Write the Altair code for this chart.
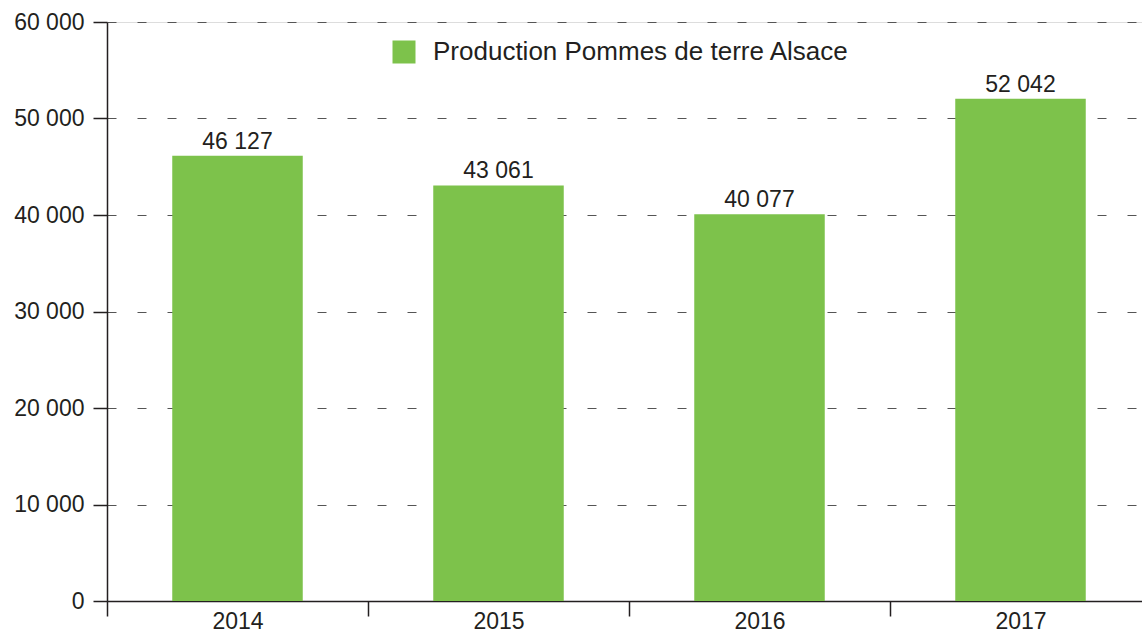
import altair as alt
import pandas as pd

years = ["2014", "2015", "2016", "2017"]
values = [46127, 43061, 40077, 52042]
series_name = "Production Pommes de terre Alsace"
y_ticks = [0, 10000, 20000, 30000, 40000, 50000, 60000]

df = pd.DataFrame({"year": years, "value": values, "series": [series_name] * len(years)})

FONT = "Liberation Sans"
TXT = "#231F20"
GREEN = "#7DC24B"

base = alt.Chart(df).encode(
    x=alt.X(
        "year:N",
        sort=years,
        scale=alt.Scale(paddingInner=0, paddingOuter=0, range=[0, 1044]),
        axis=alt.Axis(
            title=None,
            labelAngle=0,
            tickBand="extent",
            tickSize=15,
            labelPadding=-6,
            labelFontSize=23,
            labelFont=FONT,
            labelColor=TXT,
            domainColor=TXT,
            tickColor=TXT,
            domainWidth=1.5,
            tickWidth=1.5,
            grid=False,
        ),
    ),
    y=alt.Y(
        "value:Q",
        scale=alt.Scale(domain=[0, 60000], nice=False),
        axis=alt.Axis(
            title=None,
            values=y_ticks,
            labelExpr="replace(format(datum.value, ','), ',', ' ')",
            tickSize=14,
            labelPadding=9,
            labelFontSize=23,
            labelFont=FONT,
            labelColor=TXT,
            domainColor=TXT,
            tickColor=TXT,
            domainWidth=1.5,
            tickWidth=1.5,
            grid=True,
            gridDash=[9, 21],
            gridColor="#555555",
            gridWidth=1,
        ),
    ),
)

bars = base.mark_bar(width={"band": 0.5}).encode(
    color=alt.Color(
        "series:N",
        scale=alt.Scale(range=[GREEN]),
        legend=alt.Legend(
            title=None,
            orient="none",
            legendX=284,
            legendY=17,
            symbolType="square",
            symbolSize=529,
            symbolStrokeWidth=0,
            symbolOpacity=1,
            labelFontSize=26,
            labelFont=FONT,
            labelColor=TXT,
            labelOffset=16,
            labelLimit=600,
        ),
    )
)

labels = base.transform_calculate(
    label="replace(format(datum.value, ','), ',', ' ')"
).mark_text(
    baseline="alphabetic", dy=-7, fontSize=23, font=FONT, color=TXT
).encode(text="label:N")

chart = (
    alt.layer(bars, labels)
    .properties(
        width=1035,
        height=579,
        autosize=alt.AutoSizeParams(type="none"),
        padding={"left": 107, "top": 22, "right": 0, "bottom": 32},
    )
    .configure_view(stroke=None)
    .configure(background="white")
)

chart.save("out.html", embed_options={"renderer": "svg", "actions": False})
